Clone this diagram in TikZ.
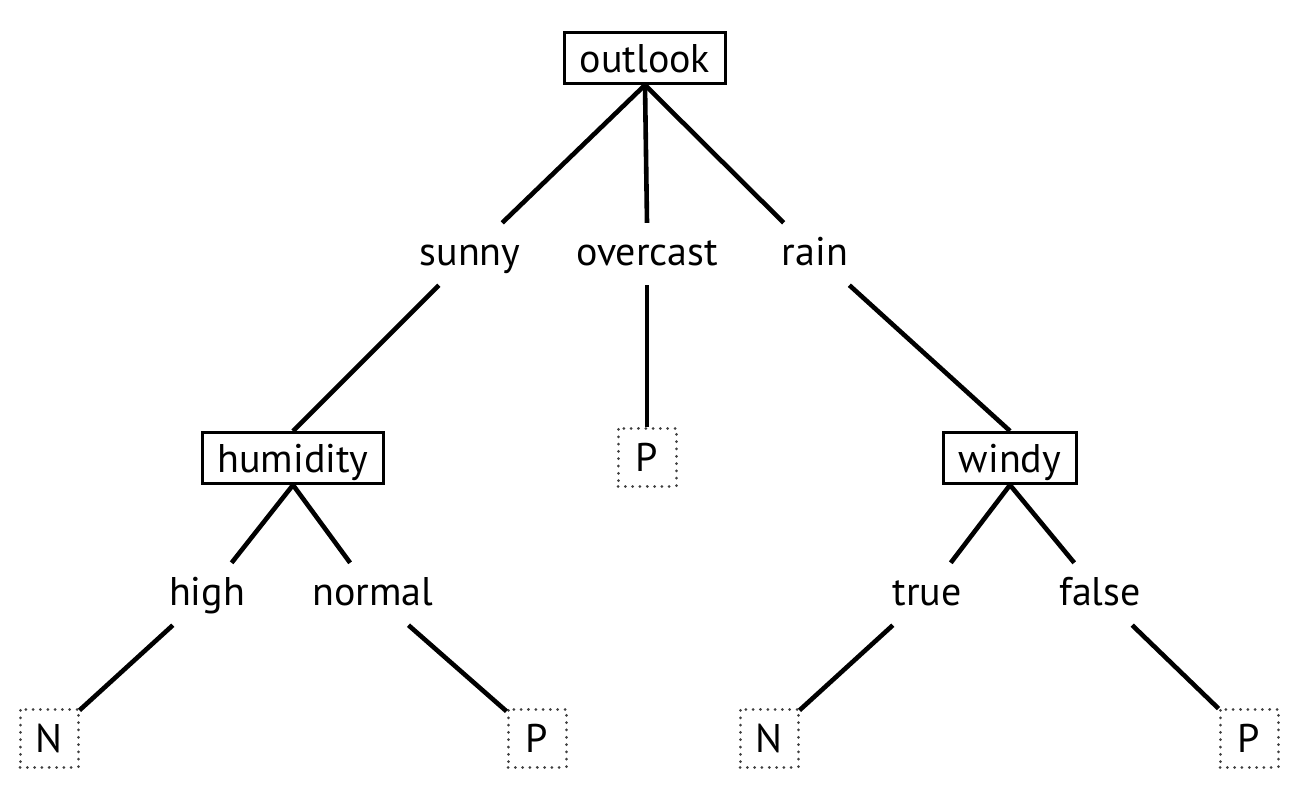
\documentclass[tikz,border=0pt]{standalone}
\usepackage{fontspec}
\setmainfont{PT Sans}
\begin{document}
\begin{tikzpicture}[x=1pt,y=-1pt,
  font=\fontsize{40}{48}\selectfont,
  conn/.style={line width=4.6pt},
  attr/.style={draw, line width=3pt, minimum height=51pt, inner xsep=15pt, inner ysep=0pt, text height=30pt, text depth=2pt},
  leaf/.style={draw=black!75, line width=3pt, dash pattern=on 0.01pt off 7.3pt, line cap=round, minimum size=58pt, inner sep=0pt, text height=30pt, text depth=2pt},
  lab/.style={anchor=base, inner xsep=6pt, inner ysep=12pt, text height=30pt, text depth=8pt}]
\useasboundingbox (0,0) rectangle (1305,800);
% decision nodes
\node[attr] (outlook) at (645,58) {outlook};
\node[attr] (humidity) at (293,458) {humidity};
\node[attr] (windy) at (1010,458) {windy};
% leaves
\node[leaf] (P1) at (647,457) {P};
\node[leaf] (N1) at (49,738) {N};
\node[leaf] (P2) at (537,738) {P};
\node[leaf] (N3) at (769,738) {N};
\node[leaf] (P4) at (1249,738) {P};
% labels
\node[lab] (sunny) at (470,265) {sunny};
\node[lab] (overcast) at (647,265) {overcast};
\node[lab] (rain) at (815,265) {rain};
\node[lab] (high) at (207,605) {high};
\node[lab] (normal) at (373,605) {normal};
\node[lab] (true) at (927,605) {true};
\node[lab] (false) at (1100,605) {false};
% connectors
\draw[conn] (outlook.south) -- (sunny);
\draw[conn] (outlook.south) -- (overcast.north);
\draw[conn] (outlook.south) -- (rain);
\draw[conn] (sunny) -- (humidity.north);
\draw[conn] (overcast.south) -- (P1.north);
\draw[conn] (rain) -- (windy.north);
\draw[conn] (humidity.south) -- (high);
\draw[conn] (humidity.south) -- (normal);
\draw[conn] (high) -- (N1);
\draw[conn] (normal) -- (P2);
\draw[conn] (windy.south) -- (true);
\draw[conn] (windy.south) -- (false);
\draw[conn] (true) -- (N3);
\draw[conn] (false) -- (P4);
\end{tikzpicture}
\end{document}
